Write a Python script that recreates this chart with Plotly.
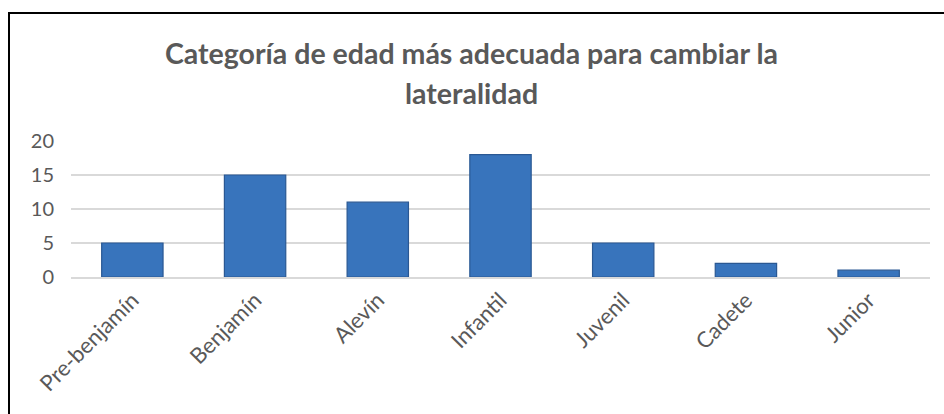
import plotly.graph_objects as go

# Age categories and the number of responses for each one
categorias = ["Pre-benjamín", "Benjamín", "Alevín", "Infantil", "Juvenil", "Cadete", "Junior"]
respuestas = [5, 15, 11, 18, 5, 2, 1]
marcas_y = [0, 5, 10, 15, 20]

titulo_l1 = "Categoría de edad más adecuada para cambiar la"
titulo_l2 = "lateralidad"

W, H = 944, 414
gris = "#595959"
fuente = "Lato"

fig = go.Figure()
fig.add_trace(go.Bar(
    x=categorias,
    y=respuestas,
    width=0.5,
    marker=dict(color="#3874bc", line=dict(color="#2a5893", width=1.2)),
    hoverinfo="x+y",
))

# Chart area frame (left and top edges visible)
fig.add_shape(type="rect", xref="paper", yref="paper",
              x0=(9 - 71) / (W - 71 - 14), x1=1.2,
              y0=-1.2, y1=1 + (141 - 13) / (H - 141 - 137),
              line=dict(color="black", width=2), layer="below")

for txt, ypix in [(titulo_l1, 53), (titulo_l2, 93)]:
    fig.add_annotation(text=f"<b>{txt}</b>", xref="paper", yref="paper",
                       x=(471 - 71) / (W - 71 - 14),
                       y=1 + (141 - ypix) / (H - 141 - 137),
                       showarrow=False, xanchor="center", yanchor="middle",
                       font=dict(family=fuente, size=28.5, color=gris))

fig.update_layout(
    width=W, height=H,
    margin=dict(l=71, r=14, t=141, b=137),
    paper_bgcolor="white", plot_bgcolor="white",
    showlegend=False,
    bargap=0.5,
    font=dict(family=fuente, size=20, color=gris),
)
fig.update_yaxes(range=[0, 20], tickvals=marcas_y, showgrid=True,
                 gridcolor="#d9d9d9", gridwidth=1.5, zeroline=False,
                 showline=False, ticks="", ticklabelstandoff=16,
                 tickfont=dict(family=fuente, size=20, color=gris))
fig.update_xaxes(showline=True, linecolor="#d9d9d9", linewidth=1.5,
                 ticks="", tickangle=-45,
                 tickfont=dict(family=fuente, size=22, color=gris))

fig.write_html("out.html")
